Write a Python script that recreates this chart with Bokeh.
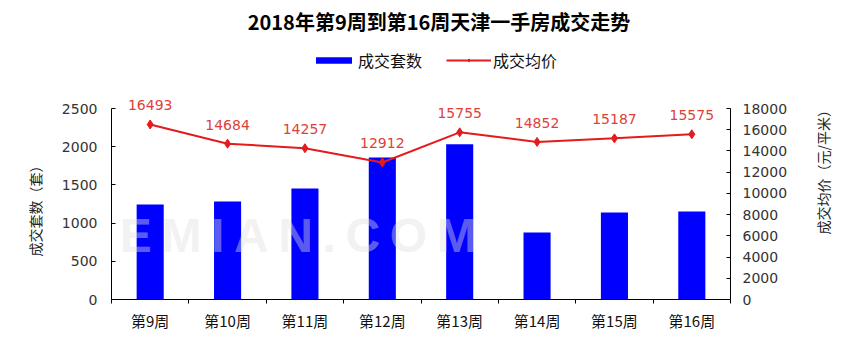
import math
from bokeh.plotting import figure
from bokeh.models import (Range1d, LinearAxis, FixedTicker, Label, LabelSet,
                          ColumnDataSource, Legend, LegendItem)
from bokeh.core.properties import value
from bokeh.embed import file_html
from bokeh.resources import INLINE

# ---- data ----
weeks = ["第9周", "第10周", "第11周", "第12周", "第13周", "第14周", "第15周", "第16周"]
volumes = [1243, 1283, 1453, 1859, 2033, 877, 1139, 1152]
prices = [16493, 14684, 14257, 12912, 15755, 14852, 15187, 15575]
vol_ticks = [0, 500, 1000, 1500, 2000, 2500]
price_ticks = [0, 2000, 4000, 6000, 8000, 10000, 12000, 14000, 16000, 18000]
title_text = "2018年第9周到第16周天津一手房成交走势"
vol_name = "成交套数"
price_name = "成交均价"
vol_axis_title = "成交套数（套）"
price_axis_title = "成交均价（元/平米）"

# ---- layout constants ----
W, H = 861, 339
FL, FR, FB = 111, 730, 299   # frame left/right/bottom in px
AXT = 108                    # pixel row of the top tick of both value axes
N = len(weeks)
CJK = "Noto Sans CJK SC"
NUM = "DejaVu Sans"

v0, v1 = vol_ticks[0], vol_ticks[-1]
p0, p1 = price_ticks[0], price_ticks[-1]
# frame spans from canvas top (0) to FB; axes are bounded to the tick range
vol_end = v0 + (FB - 0) / (FB - AXT) * (v1 - v0)
price_end = p0 + (FB - 0) / (FB - AXT) * (p1 - p0)


def px2x(px):
    return -0.5 + (px - FL) / (FR - FL) * N


def px2y(py):
    return v0 + (FB - py) / (FB - AXT) * (v1 - v0)


def px2p(py):
    return p0 + (FB - py) / (FB - AXT) * (p1 - p0)


xs = list(range(N))
src = ColumnDataSource(dict(x=xs, vol=volumes, price=prices,
                            plabel=[str(v) for v in prices]))

p = figure(width=W, height=H, x_range=Range1d(-0.5, N - 0.5),
           y_range=Range1d(v0, vol_end),
           output_backend="svg", toolbar_location=None,
           min_border_left=FL, min_border_right=W - FR,
           min_border_top=0, min_border_bottom=H - FB)
p.extra_y_ranges = {"price": Range1d(p0, price_end)}
p.outline_line_color = None
p.xgrid.visible = False
p.ygrid.visible = False
p.background_fill_color = "white"
p.border_fill_color = "white"

# x axis
xa = p.xaxis[0]
xa.ticker = FixedTicker(ticks=xs, minor_ticks=[i + 0.5 for i in range(-1, N)])
xa.major_label_overrides = {i: w for i, w in enumerate(weeks)}
xa.major_tick_line_color = None
xa.minor_tick_line_color = "black"
xa.minor_tick_in = 0
xa.minor_tick_out = 4
xa.axis_line_color = "black"
xa.major_label_text_font = CJK
xa.major_label_text_font_size = "15px"
xa.major_label_text_color = "#111111"
xa.major_label_standoff = 4

# left value axis
ya = p.yaxis[0]
ya.bounds = (v0, v1)
ya.ticker = FixedTicker(ticks=vol_ticks)
ya.major_tick_in = 4
ya.major_tick_out = 0
ya.minor_tick_line_color = None
ya.axis_line_color = "black"
ya.major_label_text_font = NUM
ya.major_label_text_font_size = "14px"
ya.major_label_text_color = "#333333"
ya.major_label_standoff = 14

# right value axis
ra = LinearAxis(y_range_name="price", ticker=FixedTicker(ticks=price_ticks),
                bounds=(p0, p1))
ra.major_tick_in = 4
ra.major_tick_out = 0
ra.minor_tick_line_color = None
ra.axis_line_color = "black"
ra.major_label_text_font = NUM
ra.major_label_text_font_size = "14px"
ra.major_label_text_color = "#333333"
ra.major_label_standoff = 12
p.add_layout(ra, "right")

# axis titles: single-tick label-only axes so they can sit off-centre as in the reference
lt = round(px2y(207))
lta = LinearAxis(ticker=FixedTicker(ticks=[lt]),
                 major_label_overrides={lt: vol_axis_title},
                 major_label_orientation="vertical",
                 axis_line_color=None, major_tick_line_color=None,
                 minor_tick_line_color=None, major_label_standoff=7,
                 major_label_text_font=CJK, major_label_text_font_size="14px",
                 major_label_text_color="#222222")
p.add_layout(lta, "left")

rt = round(px2p(234))
rta = LinearAxis(y_range_name="price", ticker=FixedTicker(ticks=[rt]),
                 major_label_overrides={rt: price_axis_title},
                 major_label_orientation=math.pi / 2,
                 axis_line_color=None, major_tick_line_color=None,
                 minor_tick_line_color=None, major_label_standoff=27,
                 major_label_text_font=CJK, major_label_text_font_size="14px",
                 major_label_text_color="#222222")
p.add_layout(rta, "right")

# bars
bars = p.vbar(x="x", top="vol", width=0.35, source=src,
              fill_color="#0000ff", line_color=None)

# price line
RED = "#e41a1c"
ln = p.line(x="x", y="price", source=src, y_range_name="price",
            line_color=RED, line_width=2)
sc = p.scatter(x="x", y="price", source=src, y_range_name="price",
               marker="diamond", size=9, fill_color=RED, line_color=RED)

labels = LabelSet(x="x", y="price", text="plabel", source=src,
                  y_range_name="price", y_offset=19,
                  text_align="center", text_baseline="middle",
                  text_font=value(NUM), text_font_size=value("14px"),
                  text_color="#e0403a")
p.add_layout(labels)

# watermark
wm = Label(x=px2x(60), y=px2y(235),
           text="J\u2009I\u2009E\u2009M\u2009I\u2009A\u2009N\u2009.\u2009C\u2009O\u2009M",
           text_align="left", text_baseline="middle",
           text_font="Liberation Sans", text_font_size="48px",
           text_font_style="bold", text_color="#e0e0e0", text_alpha=0.43)
p.add_layout(wm)

# title
tl = Label(x=px2x(W / 2 + 8), y=px2y(21), text=title_text,
           text_align="center", text_baseline="middle",
           text_font=CJK, text_font_size="20px", text_font_style="bold",
           text_color="black")
p.add_layout(tl)

# legend
leg = Legend(items=[LegendItem(label=vol_name, renderers=[bars]),
                    LegendItem(label=price_name, renderers=[ln, sc])],
             orientation="horizontal", location=(200, 227),
             glyph_width=45, glyph_height=8, label_height=20,
             label_standoff=2, spacing=24, padding=0, margin=0,
             label_text_font=CJK, label_text_font_size="16px",
             label_text_color="#111111",
             background_fill_alpha=0, border_line_color=None)
p.add_layout(leg)

open("out.html", "w").write(file_html(p, INLINE))
